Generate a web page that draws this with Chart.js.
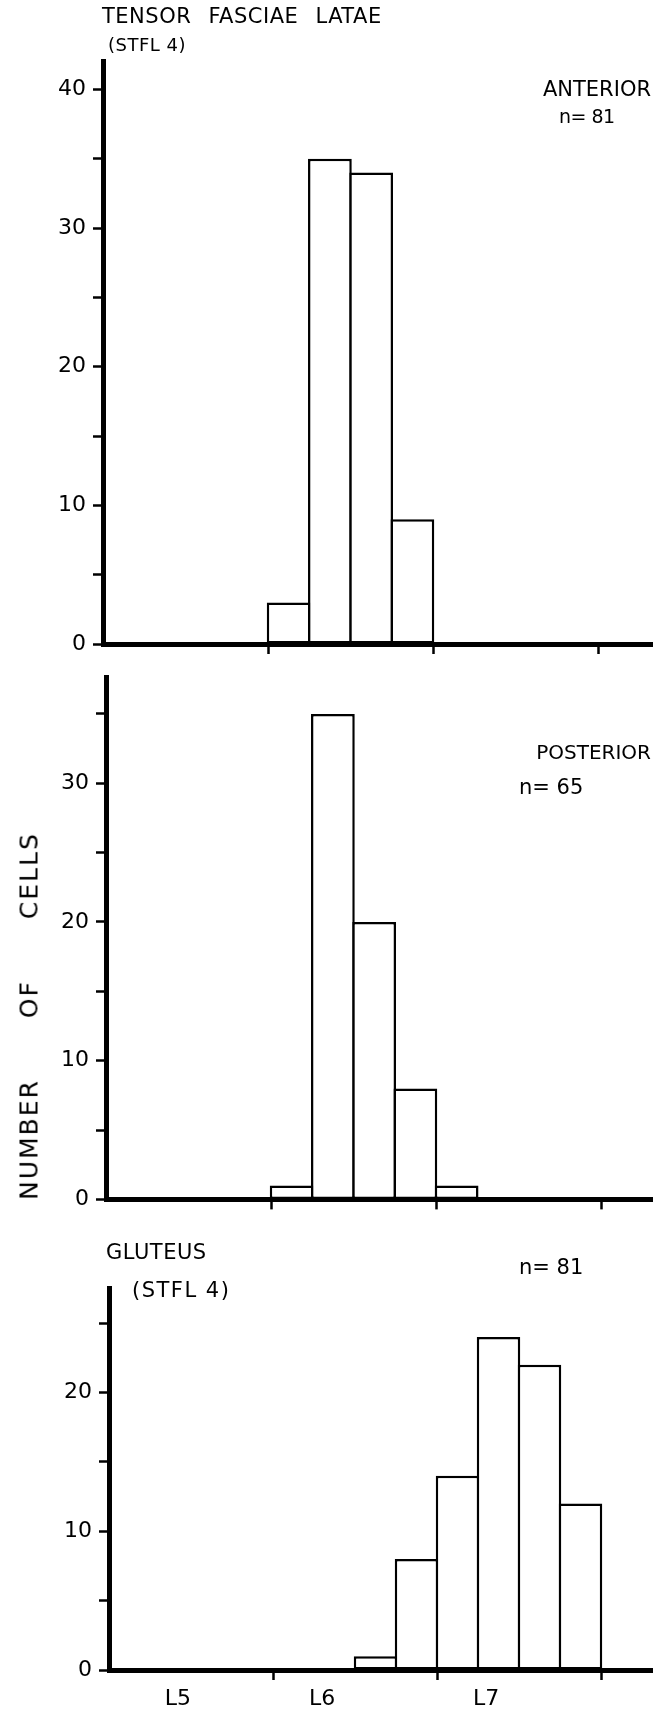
<!DOCTYPE html>
<html>
<head>
<meta charset="utf-8">
<script src="https://cdn.jsdelivr.net/npm/chart.js@4.4.1/dist/chart.umd.min.js"></script>
<style>
  html, body { margin: 0; padding: 0; background: #fff; }
  body { width: 653px; height: 1709px; position: relative; overflow: hidden;
         font-family: "DejaVu Sans", sans-serif; color: #000; }
  canvas { position: absolute; left: 0; }
  .txt { position: absolute; white-space: nowrap; line-height: 1; z-index: 2; }
</style>
</head>
<body>

<div class="txt" style="left:102px; top:6px; font-size:21px; letter-spacing:0.5px; word-spacing:10px;">TENSOR FASCIAE LATAE</div>
<div class="txt" style="left:108px; top:36px; font-size:18px; letter-spacing:0.5px;">(STFL 4)</div>
<div class="txt" style="right:2px; top:79px; font-size:21px;">ANTERIOR</div>
<div class="txt" style="left:559px; top:107px; font-size:19px; letter-spacing:-0.5px;">n= 81</div>

<div class="txt" style="right:2px; top:742px; font-size:20px;">POSTERIOR</div>
<div class="txt" style="left:519px; top:777px; font-size:21px;">n= 65</div>

<div class="txt" style="left:106px; top:1242px; font-size:21px; letter-spacing:0.5px;">GLUTEUS</div>
<div class="txt" style="left:132px; top:1280px; font-size:21px; letter-spacing:1.5px;">(STFL 4)</div>
<div class="txt" style="left:519px; top:1257px; font-size:21px;">n= 81</div>

<div class="txt" style="left:29px; top:1016px; font-size:25px; letter-spacing:2px; word-spacing:51px;
     transform: translate(-50%, -50%) rotate(-90deg);">NUMBER OF CELLS</div>

<canvas id="c1" width="653" height="670" style="top:0px; width:653px; height:670px;"></canvas>
<canvas id="c2" width="653" height="590" style="top:640px; width:653px; height:590px;"></canvas>
<canvas id="c3" width="653" height="469" style="top:1240px; width:653px; height:469px;"></canvas>

<script>
// x in segment units: 0 = start of L5, 1 = L5/L6 border, 2 = L6/L7, 3 = L7/L8
// each bin is a quarter of a segment
const binWidth = 0.25;

const binStartsAnterior = [1.0, 1.25, 1.5, 1.75];
const cellsAnterior = [3, 35, 34, 9];

const binStartsPosterior = [1.0, 1.25, 1.5, 1.75, 2.0];
const cellsPosterior = [1, 35, 20, 8, 1];

const binStartsGluteus = [1.5, 1.75, 2.0, 2.25, 2.5, 2.75];
const cellsGluteus = [1, 8, 14, 24, 22, 12];

const segmentBorders = [1, 2, 3];
const segmentLabelAt = [0.42, 1.3, 2.3];
const segmentLabels = ['L5', 'L6', 'L7'];

const yTicksAnterior = [0, 5, 10, 15, 20, 25, 30, 35, 40];
const yTicksPosterior = [0, 5, 10, 15, 20, 25, 30, 35];
const yTicksGluteus = [0, 5, 10, 15, 20, 25];

const numFont = { family: 'DejaVu Sans', size: 22 };
const lineW = 5;
const barLine = 2.5;

function makePanel(id, starts, counts, yTicks, p) {
    const ctx = document.getElementById(id).getContext('2d');
    const unitPx = (653 - p.left) / p.xMax;
    const binPx = unitPx * binWidth;
    const xTicks = p.showLabels
        ? segmentBorders.concat(segmentLabelAt).sort((a, b) => a - b)
        : segmentBorders;

    return new Chart(ctx, {
        type: 'bar',
        data: {
            datasets: [{
                data: starts.map((s, i) => ({ x: s + binWidth / 2, y: counts[i] })),
                backgroundColor: '#fff',
                borderColor: '#000',
                borderWidth: barLine,
                borderSkipped: false,
                inflateAmount: 0,
                categoryPercentage: 1,
                // overlap neighbours by one border so shared edges stay single
                barPercentage: (binPx + barLine) / binPx
            }]
        },
        options: {
            responsive: false,
            animation: false,
            devicePixelRatio: 1,
            layout: { padding: { top: p.top, left: 0, right: 0, bottom: 0 } },
            plugins: { legend: { display: false }, tooltip: { enabled: false } },
            scales: {
                x: {
                    type: 'linear',
                    min: 0,
                    max: p.xMax,
                    offset: false,
                    afterBuildTicks: s => { s.ticks = xTicks.map(v => ({ value: v })); },
                    afterFit: s => { s.height = p.xHeight; },
                    grid: {
                        offset: false,
                        drawOnChartArea: false,
                        tickLength: 10,
                        tickWidth: 2.5,
                        tickColor: c => segmentBorders.includes(c.tick.value) ? '#000' : 'rgba(0,0,0,0)'
                    },
                    border: { color: '#000', width: lineW },
                    ticks: {
                        display: p.showLabels,
                        autoSkip: false,
                        maxRotation: 0,
                        padding: 6,
                        color: '#000',
                        font: numFont,
                        callback: v => {
                            const k = segmentLabelAt.indexOf(v);
                            return k >= 0 ? segmentLabels[k] : '';
                        }
                    }
                },
                y: {
                    min: 0,
                    max: p.yMax,
                    afterBuildTicks: s => { s.ticks = yTicks.map(v => ({ value: v })); },
                    afterFit: s => { s.width = p.left; },
                    grid: {
                        drawOnChartArea: false,
                        tickLength: 10,
                        tickWidth: 2.5,
                        tickColor: '#000'
                    },
                    border: { color: '#000', width: lineW },
                    ticks: {
                        padding: 7,
                        color: '#000',
                        font: numFont,
                        callback: v => (v % 10 === 0 ? String(v) : '')
                    }
                }
            }
        }
    });
}

makePanel('c1', binStartsAnterior, cellsAnterior, yTicksAnterior,
    { left: 103, top: 61, xHeight: 26, xMax: 3.333, yMax: 42.05, showLabels: false });
makePanel('c2', binStartsPosterior, cellsPosterior, yTicksPosterior,
    { left: 106, top: 37, xHeight: 30.6, xMax: 3.315, yMax: 37.66, showLabels: false });
makePanel('c3', binStartsGluteus, cellsGluteus, yTicksGluteus,
    { left: 109, top: 48, xHeight: 39, xMax: 3.317, yMax: 27.54, showLabels: true });
</script>
</body>
</html>
